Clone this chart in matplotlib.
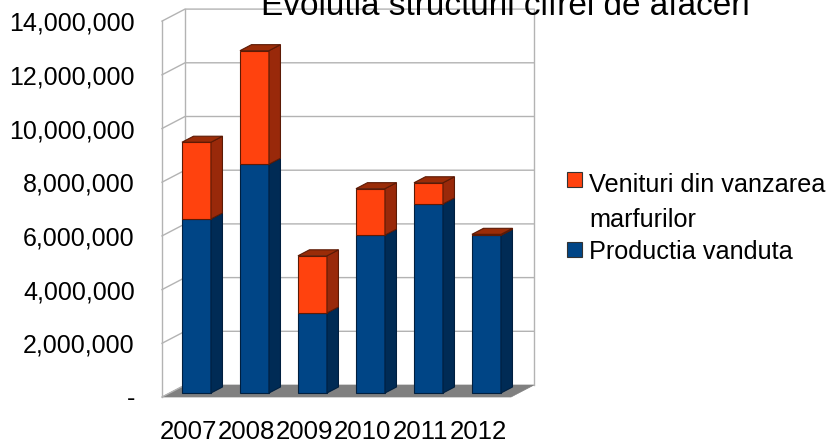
import matplotlib
matplotlib.use("Agg")
import matplotlib.pyplot as plt
from matplotlib.patches import Polygon, Rectangle

# data
years = ["2007", "2008", "2009", "2010", "2011", "2012"]
productia = [6480000, 8520000, 2980000, 5880000, 7040000, 5870000]
venituri = [2860000, 4230000, 2130000, 1730000, 790000, 40000]
y_ticks = [0, 2000000, 4000000, 6000000, 8000000, 10000000, 12000000, 14000000]
y_labels = ["-", "2,000,000", "4,000,000", "6,000,000", "8,000,000",
            "10,000,000", "12,000,000", "14,000,000"]
series_names = [["Venituri din vanzarea", "marfurilor"], ["Productia vanduta"]]

W, H = 831, 442
plt.rcParams['font.family'] = ['Liberation Sans', 'DejaVu Sans']

# pseudo 3d: depth d=0 is the front edge of the walls, d=1 the back wall
PX_X = 58.0          # pixels per category
PX_V = 26.85e-6      # pixels per unit of value
DEPTH_X, DEPTH_Y = 23.0, 12.0
X_LO, X_HI = -0.462, 5.555
V_TOP = y_ticks[-1]


def proj(x, v, d):
    return (x + DEPTH_X * d / PX_X, v + DEPTH_Y * d / PX_V)


def face(ax, pts, fc, ec, lw=0.8, z=2):
    ax.add_patch(Polygon([proj(*p) for p in pts], closed=True, fc=fc, ec=ec,
                         lw=lw, zorder=z, joinstyle='miter'))


def fy(py):
    # figure fraction from a pixel row counted from the top
    return 1 - py / H


fig = plt.figure(figsize=(W / 100, H / 100), dpi=100)
ax = fig.add_axes([0, 0, 1, 1])
ax.set_xlim(-188.8 / PX_X, (W - 188.8) / PX_X)
ax.set_ylim((397 - H) / PX_V, 397 / PX_V)
ax.axis('off')

grid_col = '#b3b3b3'
# floor
face(ax, [(X_LO, 0, 0), (X_HI, 0, 0), (X_HI, 0, 1), (X_LO, 0, 1)],
     '#808080', '#808080', lw=0.5, z=1)
# walls and grid
for v in y_ticks:
    xs, ys = zip(proj(X_LO, v, 0), proj(X_LO, v, 1), proj(X_HI, v, 1))
    if v == 0:
        xs, ys = xs[:2], ys[:2]
    ax.plot(xs, ys, color=grid_col, lw=1, zorder=1)
for x, d in [(X_LO, 0), (X_LO, 1), (X_HI, 1)]:
    xs, ys = zip(proj(x, 0, d), proj(x, V_TOP, d))
    ax.plot(xs, ys, color=grid_col, lw=1, zorder=1)

# bars
blue = ('#004586', '#002b55', '#003366', '#001f3f')
orange = ('#ff420e', '#99290a', '#9a2c08', '#5c1a05')
d0, d1 = 1 / 3, 5 / 6
hw = 0.25
for i in range(len(years)):
    segs = [(0, productia[i], blue),
            (productia[i], productia[i] + venituri[i], orange)]
    for k, (v0, v1, col) in enumerate(segs):
        front, side, top, edge = col
        face(ax, [(i - hw, v0, d0), (i + hw, v0, d0), (i + hw, v1, d0),
                  (i - hw, v1, d0)], front, edge)
        face(ax, [(i + hw, v0, d0), (i + hw, v0, d1), (i + hw, v1, d1),
                  (i + hw, v1, d0)], side, edge)
        if k == len(segs) - 1:
            face(ax, [(i - hw, v1, d0), (i + hw, v1, d0), (i + hw, v1, d1),
                      (i - hw, v1, d1)], top, edge)

# axis labels
for v, lab in zip(y_ticks, y_labels):
    ax.text(-0.93, v - 9.5 / PX_V, lab, ha='right', va='baseline',
            fontsize=18, color='black')
for i, yr in enumerate(years):
    ax.text(i, (397 - 439) / PX_V, yr, ha='center', va='baseline',
            fontsize=18.6)

# title (cut by the top edge like in the reference)
fig.text(505 / W, fy(15), "Evolutia structurii cifrei de afaceri",
         ha='center', va='baseline', fontsize=24)

# legend
leg = [(orange, 172, [192, 227]), (blue, 242, [259])]
for (col, top, baselines), lines in zip(leg, series_names):
    fig.patches.append(Rectangle((567 / W, fy(top + 15)), 15 / W, 15 / H,
                                 transform=fig.transFigure, fc=col[0],
                                 ec='#333333', lw=0.8))
    for b, line in zip(baselines, lines):
        fig.text(589 / W, fy(b), line, ha='left', va='baseline', fontsize=18.2)

fig.savefig('out.png', dpi=100)
